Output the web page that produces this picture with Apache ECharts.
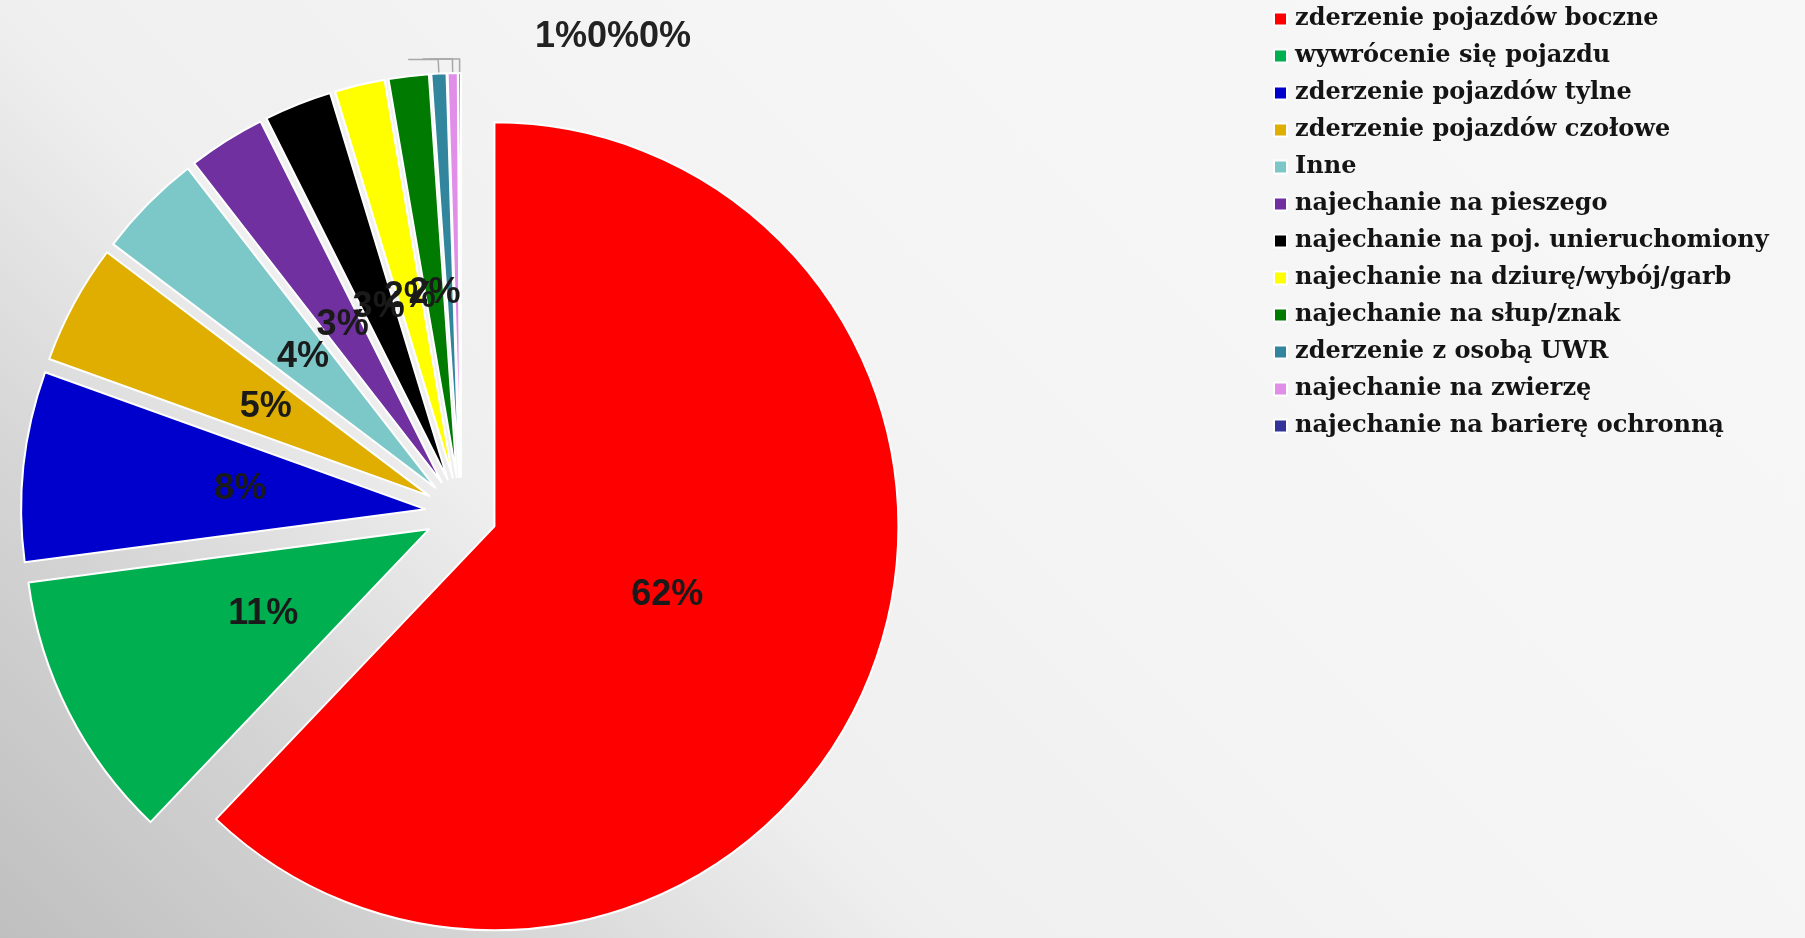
<!DOCTYPE html>
<html>
<head>
<meta charset="utf-8">
<script src="https://cdn.jsdelivr.net/npm/echarts/dist/echarts.min.js"></script>
<style>
html, body { margin: 0; padding: 0; width: 1805px; height: 938px; overflow: hidden;
  background: linear-gradient(45deg, #bfbfbf 0%, #d4d4d4 17%, #efefef 34%, #f5f5f5 60%, #f7f7f7 100%); }
#chart { width: 1805px; height: 938px; }
</style>
</head>
<body>
<div id="chart"></div>
<script>
// ---- data ----
const categories = [
  'zderzenie pojazdów boczne',
  'wywrócenie się pojazdu',
  'zderzenie pojazdów tylne',
  'zderzenie pojazdów czołowe',
  'Inne',
  'najechanie na pieszego',
  'najechanie na poj. unieruchomiony',
  'najechanie na dziurę/wybój/garb',
  'najechanie na słup/znak',
  'zderzenie z osobą UWR',
  'najechanie na zwierzę',
  'najechanie na barierę ochronną'
];
const shares = [62.1, 10.8, 7.6, 4.8, 4.2, 3.1, 2.7, 2.0, 1.6, 0.6, 0.4, 0.1];
const sliceColors = ['#ff0000', '#00b050', '#0000cc', '#dfae00', '#7cc8c8', '#7030a0',
  '#000000', '#ffff00', '#007a00', '#31859c', '#e08ee8', '#333399'];
const outsideLabelIdx = [9, 10, 11];

// ---- chart ----
const chart = echarts.init(document.getElementById('chart'), null, { renderer: 'canvas' });
const total = shares.reduce((a, b) => a + b, 0);
const pct = p => Math.round(p.percent) + '%';
const labelFont = { fontFamily: 'Liberation Sans, Arial, sans-serif', fontWeight: 'bold', fontSize: 36, color: '#1a1a1a' };
// Outside labels of the three smallest slices are written in one run, as in the source
const outsideText = outsideLabelIdx.map(i => Math.round(shares[i] / total * 100) + '%').join('');

const visibleData = categories.map((name, i) => {
  const item = { name, value: shares[i], selected: true, itemStyle: { color: sliceColors[i] } };
  if (outsideLabelIdx.includes(i)) {
    item.label = { show: true, position: 'outside', formatter: pct, color: 'rgba(0,0,0,0)', fontSize: 10 };
    item.labelLine = { show: true, length: 14, length2: 30, lineStyle: { color: '#a8a8a8', width: 1.5 } };
  }
  return item;
});
const labelData = categories.map((name, i) => ({
  name, value: shares[i], selected: true,
  itemStyle: { color: 'rgba(0,0,0,0)', borderWidth: 0 },
  label: { show: !outsideLabelIdx.includes(i) }
}));

chart.setOption({
  animation: false,
  title: {
    text: outsideText, left: 535, top: 19, padding: 0,
    textStyle: Object.assign({}, labelFont, { color: '#222' })
  },
  legend: {
    orient: 'vertical', left: 1273, top: 7, padding: 0,
    icon: 'rect', itemWidth: 13, itemHeight: 13, itemGap: 13,
    data: categories.map((n, i) => ({ name: n, itemStyle: { color: sliceColors[i] } })),
    textStyle: { fontFamily: 'DejaVu Serif, serif', fontWeight: 'bold', fontSize: 24, color: '#141414', padding: [0, 0, 0, 3] }
  },
  series: [
    {
      type: 'pie', center: [461, 513], radius: 404, startAngle: 90, clockwise: true,
      selectedMode: 'multiple', selectedOffset: 36, avoidLabelOverlap: false,
      itemStyle: { borderColor: '#ffffff', borderWidth: 2 },
      label: { show: false },
      labelLine: { show: false },
      emphasis: { disabled: true },
      data: visibleData
    },
    {
      type: 'pie', center: [461, 513], radius: 366, startAngle: 90, clockwise: true,
      selectedMode: 'multiple', selectedOffset: 36, silent: true, avoidLabelOverlap: false,
      label: Object.assign({ position: 'inside', formatter: pct }, labelFont),
      labelLine: { show: false },
      labelLayout: { hideOverlap: false },
      emphasis: { disabled: true },
      data: labelData
    }
  ]
});
</script>
</body>
</html>
